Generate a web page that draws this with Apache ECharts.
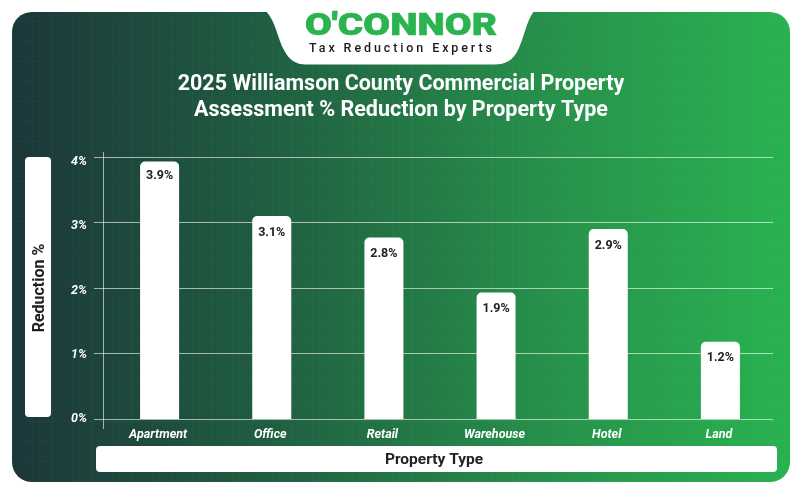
<!DOCTYPE html>
<html>
<head>
<meta charset="utf-8">
<style>
  html, body { margin: 0; padding: 0; background: #fff; }
  #panel {
    position: absolute; left: 12px; top: 12px; width: 778px; height: 470px; border-radius: 20px;
    background:
      repeating-linear-gradient(90deg, rgba(255,255,255,0.025) 0 1px, transparent 1px 20px),
      repeating-linear-gradient(0deg, rgba(255,255,255,0.025) 0 1px, transparent 1px 20px),
      linear-gradient(90deg, #1c373a 0%, #1f5a40 30%, #27924b 70%, #29b250 100%);
  }
  #main { position: absolute; left: 0; top: 0; width: 802px; height: 494px; }
  #tagline {
    position: absolute; left: 262px; top: 40px; width: 280px; text-align: center;
    font: 500 12.5px Roboto, sans-serif; letter-spacing: 2.9px; color: #1b1b1b;
  }
</style>
</head>
<body>
<div id="panel"></div>
<div id="main"></div>
<div id="tagline">Tax Reduction Experts</div>
<script src="https://cdn.jsdelivr.net/npm/echarts@6/dist/echarts.min.js"></script>
<script>
var categories = ['Apartment', 'Office', 'Retail', 'Warehouse', 'Hotel', 'Land'];
var reduction = [3.93, 3.1, 2.77, 1.93, 2.9, 1.18];

// white tab behind the logo
echarts.graphic.registerShape('logoTab', echarts.graphic.extendShape({
    buildPath: function (ctx) {
        ctx.moveTo(266, 11);
        ctx.bezierCurveTo(276, 22, 278, 40, 284, 50);
        ctx.bezierCurveTo(289, 60, 296, 64.5, 306, 64.5);
        ctx.lineTo(494, 64.5);
        ctx.bezierCurveTo(506, 64.5, 513, 60, 518, 50);
        ctx.bezierCurveTo(524, 38, 526, 22, 534, 11);
        ctx.closePath();
    }
}));

var chart = echarts.init(document.getElementById('main'));

var titleLines = '2025 Williamson County Commercial Property\nAssessment % Reduction by Property Type';
var lineColor = 'rgba(255,255,255,0.6)';

option = {
    animation: false,
    backgroundColor: 'transparent',
    textStyle: { fontFamily: 'Roboto' },
    title: {
        text: titleLines,
        left: 'center',
        top: 67,
        textStyle: { color: '#fff', fontSize: 21.5, fontWeight: 'bold', lineHeight: 26, fontFamily: 'Roboto' }
    },
    // grid 0 bars, grid 1 the horizontal lines (they start left of the axis),
    // grid 2 the y labels (in the original they sit a little off the lines)
    grid: [
        { left: 103.5, top: 157, width: 673, height: 262 },
        { left: 94, top: 157, width: 679, height: 262 },
        { left: 104, top: 162, width: 673, height: 257 }
    ],
    xAxis: [{
        type: 'category',
        data: categories,
        name: 'Property Type',
        nameLocation: 'middle',
        nameGap: 33,
        nameTextStyle: { color: '#222', fontSize: 15.5, fontWeight: 'bold', padding: [0, 12, 0, 0] },
        axisLine: { show: false },
        axisTick: { show: false },
        axisLabel: { color: '#fff', fontSize: 12.5, fontWeight: 'bold', fontStyle: 'italic', margin: 9, padding: [0, 3, 0, 0] }
    }, {
        gridIndex: 1, type: 'value', min: 0, max: 1, show: false
    }, {
        gridIndex: 2, type: 'value', min: 0, max: 1, show: false
    }],
    yAxis: [{
        type: 'value',
        min: 0,
        max: 4,
        interval: 1,
        name: 'Reduction %',
        nameLocation: 'middle',
        nameGap: 56,
        nameTextStyle: { color: '#222', fontSize: 16, fontWeight: 'bold' },
        axisLine: { show: false },
        axisTick: { show: false },
        splitLine: { show: false },
        axisLabel: { show: false }
    }, {
        gridIndex: 1,
        type: 'value',
        min: 0,
        max: 4,
        interval: 1,
        axisLine: { show: false },
        axisTick: { show: false },
        axisLabel: { show: false },
        splitLine: { show: true, lineStyle: { color: lineColor, width: 1 } }
    }, {
        gridIndex: 2,
        type: 'value',
        min: 0,
        max: 4,
        interval: 1,
        axisLine: { show: false },
        axisTick: { show: false },
        splitLine: { show: false },
        axisLabel: {
            color: '#fff', fontSize: 12.5, fontWeight: 'bold', fontStyle: 'italic', margin: 17,
            formatter: function (v) { return v + '%'; }
        }
    }],
    series: [{
        type: 'bar',
        data: reduction.map(function (v, i) {
            // first label sits closer to the bar top than the rest
            return i === 0 ? { value: v, label: { distance: 8 } } : v;
        }),
        barWidth: 39,
        z: 3,
        itemStyle: { color: '#fff', borderRadius: [5, 5, 0, 0] },
        label: {
            show: true,
            position: 'insideTop',
            distance: 10,
            color: '#222',
            fontSize: 12.5,
            fontWeight: 'bold',
            formatter: function (p) { return p.value.toFixed(1) + '%'; }
        }
    }],
    graphic: [
        { type: 'logoTab', z: 10, style: { fill: '#fff' } },
        { type: 'text', z: 11, x: 401, y: 27, scaleX: 1.255, style: { text: "O'CONNOR", font: '900 31px Roboto', fill: '#2ab34f', stroke: '#2ab34f', lineWidth: 0.6, textAlign: 'center', textVerticalAlign: 'middle' } },
        // axis name boxes
        { type: 'rect', z: 0, shape: { x: 25, y: 157, width: 26, height: 260, r: 4 }, style: { fill: '#fff' } },
        { type: 'rect', z: 0, shape: { x: 96, y: 446, width: 681, height: 26, r: 4 }, style: { fill: '#fff' } },
        // y axis line runs past the plot at both ends
        { type: 'line', z: 1, shape: { x1: 103.5, y1: 152, x2: 103.5, y2: 429 }, style: { stroke: lineColor, lineWidth: 1 } }
    ]
};
chart.setOption(option);
</script>
</body>
</html>
